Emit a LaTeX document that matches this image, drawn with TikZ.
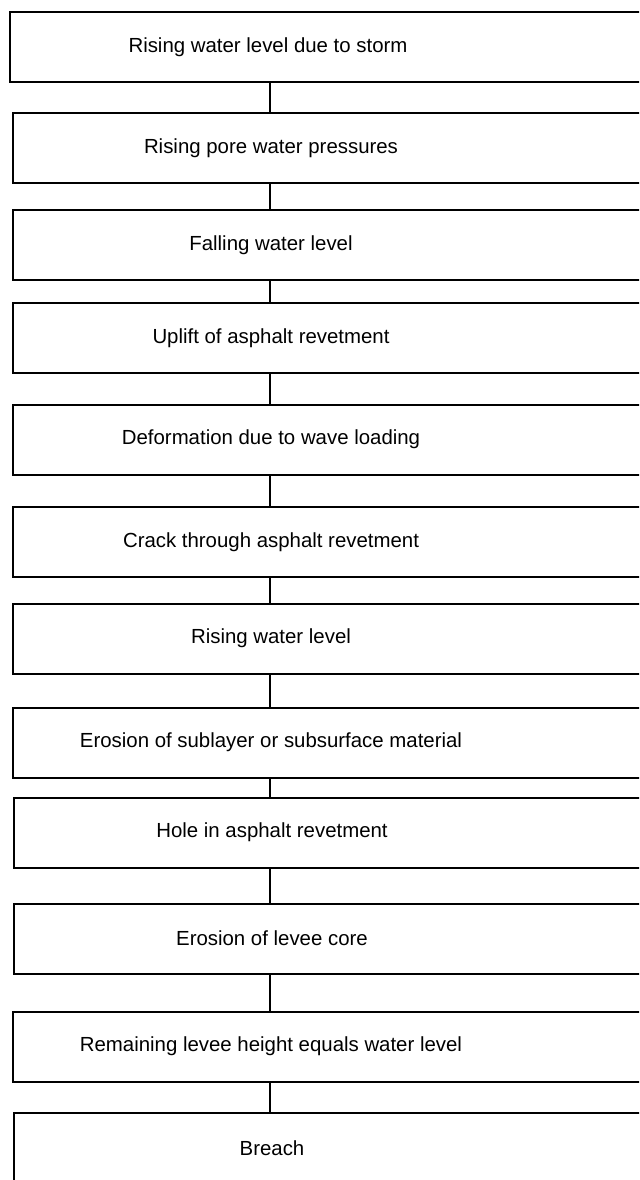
\documentclass[tikz,border=0pt]{standalone}
\usepackage{fontspec}
\setmainfont{Liberation Sans}
\usepackage{tikz}
\usetikzlibrary{positioning, calc}
\tikzstyle{stepbox} = [rectangle, draw=black, fill=white, text=black, minimum height=52.5pt, inner sep=0pt, anchor=west, line width=1.5pt, font=\fontsize{15.3}{18}\selectfont]
\tikzstyle{line} = [-, line width=1.5pt, color=black]
\newcommand{\steptext}[1]{\makebox[486pt][l]{\makebox[387pt]{#1}}}

\begin{document}
\begin{tikzpicture}[x=0.75pt, y=-0.75pt]
        \useasboundingbox (0,0) rectangle (639,1180);
        \clip (0,0) rectangle (639,1180);
        \coordinate (axis) at (270,0);

        % --- loading phase ---
        \node [stepbox] (storm) at (9,47) {\steptext{Rising water level due to storm}};
        \node [stepbox] (pore) at (12,148) {\steptext{Rising pore water pressures}};
        \node [stepbox] (falling) at (12,245) {\steptext{Falling water level}};
        \node [stepbox] (uplift) at (12,338) {\steptext{Uplift of asphalt revetment}};
        \node [stepbox] (deform) at (12,439.5) {\steptext{Deformation due to wave loading}};
        \node [stepbox] (crack) at (12,542) {\steptext{Crack through asphalt revetment}};

        % --- erosion phase ---
        \node [stepbox] (rising) at (12,638.5) {\steptext{Rising water level}};
        \node [stepbox] (sublayer) at (12,742.5) {\steptext{Erosion of sublayer or subsurface material}};
        \node [stepbox] (hole) at (13,832.5) {\steptext{Hole in asphalt revetment}};
        \node [stepbox] (core) at (13,938.5) {\steptext{Erosion of levee core}};
        \node [stepbox] (height) at (12,1046.5) {\steptext{Remaining levee height equals water level}};
        \node [stepbox] (breach) at (13,1148) {\steptext{Breach}};

        % Connect steps
        \foreach \a/\b in {storm/pore, pore/falling, falling/uplift, uplift/deform, deform/crack, crack/rising, rising/sublayer, sublayer/hole, hole/core, core/height, height/breach}
            \draw [line] (\a.south -| axis) -- (\b.north -| axis);
\end{tikzpicture}
\end{document}
